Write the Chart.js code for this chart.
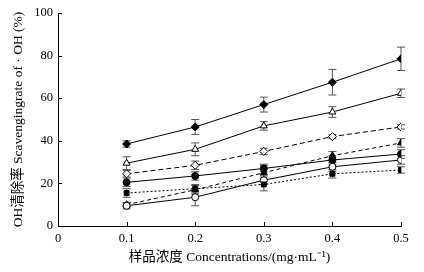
<!DOCTYPE html>
<html>
<head>
<meta charset="utf-8">
<script src="https://cdn.jsdelivr.net/npm/chart.js@4.4.1/dist/chart.umd.min.js"></script>
<style>
  html, body { margin: 0; padding: 0; background: #fff; }
  #wrap { width: 424px; height: 272px; }
</style>
</head>
<body>
<div id="wrap"><canvas id="ohChart"></canvas></div>
<script>
// Data
const concentrations = [0.1, 0.2, 0.3, 0.4, 0.5];

const s1_values = [38.5, 46.5, 57, 67.5, 78.5];   // filled diamond
const s1_errors = [1.5, 3.5, 3.5, 6, 5.5];
const s2_values = [29.5, 36, 47, 53.5, 62.3];     // open triangle
const s2_errors = [3, 3, 2, 2.5, 2];
const s3_values = [24.5, 28.5, 35, 42, 46.5];     // open diamond
const s3_errors = [1.5, 2, 1.5, 1, 1];
const s4_values = [20.5, 23.5, 27, 31, 33.8];     // filled circle
const s4_errors = [2, 2, 1.5, 2, 2];
const s5_values = [15.5, 17.5, 19.5, 24.5, 26.3]; // filled square
const s5_errors = [2, 2, 3, 2, 1.5];
const s6_values = [9.5, 13.5, 21.5, 27.8, 31];    // open circle
const s6_errors = [1.5, 4, 2, 2, 2];
const s7_values = [10, 17, 25, 33, 39];           // filled triangle
const s7_errors = [1, 2, 4, 2, 2];

const yTitle = 'OH清除率 Scavengingrate of · OH (%)';
const xTitle = '样品浓度 Concentrations/(mg·mL⁻¹)';

const serif = "'Liberation Serif', 'Times New Roman', 'Noto Sans CJK SC', serif";

function toPoints(values, errors) {
  return concentrations.map((c, i) => ({ x: c, y: values[i], err: errors[i] }));
}

function makeSet(values, errors, style, filled, dash, radius) {
  return {
    data: toPoints(values, errors),
    borderColor: '#000',
    borderWidth: 1,
    borderDash: dash,
    pointStyle: style,
    pointRadius: radius,
    pointBorderWidth: 1,
    pointBorderColor: '#000',
    pointBackgroundColor: filled ? '#000' : '#fff',
    tension: 0,
    fill: false
  };
}

// error bars, drawn under the markers
const errorBars = {
  id: 'errorBars',
  beforeDatasetsDraw(chart) {
    const ctx = chart.ctx;
    const ys = chart.scales.y;
    ctx.save();
    ctx.strokeStyle = '#555';
    ctx.lineWidth = 1;
    chart.data.datasets.forEach((ds, di) => {
      const meta = chart.getDatasetMeta(di);
      meta.data.forEach((pt, i) => {
        const e = ds.data[i].err;
        const v = ds.data[i].y;
        const top = ys.getPixelForValue(v + e);
        const bot = ys.getPixelForValue(v - e);
        ctx.beginPath();
        ctx.moveTo(pt.x, top); ctx.lineTo(pt.x, bot);
        ctx.moveTo(pt.x - 4, top); ctx.lineTo(pt.x + 4, top);
        ctx.moveTo(pt.x - 4, bot); ctx.lineTo(pt.x + 4, bot);
        ctx.stroke();
      });
    });
    ctx.restore();
  }
};

// ticks pointing into the plot
const innerTicks = {
  id: 'innerTicks',
  afterDraw(chart) {
    const ctx = chart.ctx;
    const xs = chart.scales.x, ys = chart.scales.y;
    const area = chart.chartArea;
    ctx.save();
    ctx.strokeStyle = '#000';
    ctx.lineWidth = 1;
    ctx.beginPath();
    ys.ticks.forEach(t => {
      const py = Math.round(ys.getPixelForValue(t.value)) + 0.5;
      ctx.moveTo(area.left, py); ctx.lineTo(area.left + 4, py);
    });
    xs.ticks.forEach(t => {
      const px = Math.round(xs.getPixelForValue(t.value)) + 0.5;
      ctx.moveTo(px, area.bottom); ctx.lineTo(px, area.bottom - 4);
    });
    ctx.stroke();
    ctx.restore();
  }
};

const ctxOH = document.getElementById('ohChart').getContext('2d');

const ohChart = new Chart(ctxOH, {
  type: 'line',
  data: {
    datasets: [
      makeSet(s1_values, s1_errors, 'rectRot', true, [], 4),
      makeSet(s2_values, s2_errors, 'triangle', false, [], 4),
      makeSet(s3_values, s3_errors, 'rectRot', false, [5, 3], 4),
      makeSet(s4_values, s4_errors, 'circle', true, [], 3.5),
      makeSet(s5_values, s5_errors, 'rect', true, [2, 2], 3.5),
      makeSet(s6_values, s6_errors, 'circle', false, [], 3.5),
      makeSet(s7_values, s7_errors, 'triangle', true, [4, 3], 4)
    ]
  },
  plugins: [errorBars, innerTicks],
  options: {
    responsive: true,
    maintainAspectRatio: false,
    animation: false,
    layout: { padding: { top: 13, right: 23, left: 0, bottom: 0 } },
    plugins: {
      legend: { display: false },
      tooltip: { enabled: false }
    },
    scales: {
      x: {
        type: 'linear',
        min: 0,
        max: 0.5,
        grid: { display: false, drawTicks: false },
        border: { display: true, color: '#000', width: 1 },
        ticks: {
          stepSize: 0.1,
          padding: 5,
          color: '#000',
          font: { family: serif, size: 12.5 },
          callback: v => (Math.round(v * 10) / 10).toString()
        },
        title: {
          display: true,
          text: xTitle,
          color: '#000',
          font: { family: serif, size: 13.5 },
          padding: { top: 0, bottom: 6 }
        },
        afterFit(scale) { scale.height = 46; }
      },
      y: {
        type: 'linear',
        min: 0,
        max: 100,
        grid: { display: false, drawTicks: false },
        border: { display: true, color: '#000', width: 1 },
        ticks: {
          stepSize: 20,
          padding: 5,
          color: '#000',
          font: { family: serif, size: 12.5 }
        },
        title: {
          display: true,
          text: yTitle,
          color: '#000',
          font: { family: serif, size: 13.5 },
          padding: { top: 10, bottom: 0 }
        },
        afterFit(scale) { scale.width = 58; }
      }
    }
  }
});
</script>
</body>
</html>
